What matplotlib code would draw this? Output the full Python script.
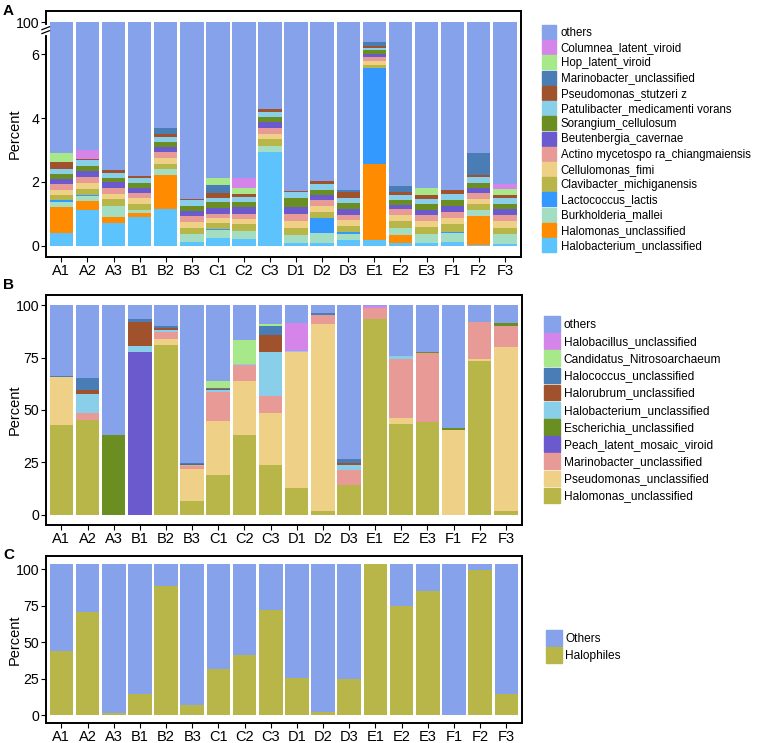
import numpy as np
import matplotlib
matplotlib.use("Agg")
from matplotlib import pyplot as plt
from matplotlib.patches import Patch
from matplotlib.ticker import NullLocator

plt.rcParams['font.family'] = ['Liberation Sans', 'DejaVu Sans']

samples = ["A1", "A2", "A3", "B1", "B2", "B3", "C1", "C2", "C3",
           "D1", "D2", "D3", "E1", "E2", "E3", "F1", "F2", "F3"]

# panel A, percent per taxon (bottom of the stack first)
halobacterium_a = [0.39, 1.12, 0.70, 0.89, 1.15, 0.13, 0.26, 0.20, 2.94, 0.09, 0.10, 0.18, 0.18, 0.09, 0.10, 0.13, 0.04, 0.07]
halomonas_a = [0.81, 0.28, 0.19, 0.13, 1.06, 0, 0, 0, 0, 0, 0, 0, 2.39, 0.24, 0, 0, 0.89, 0]
burkholderia_a = [0.16, 0.15, 0.36, 0.10, 0.19, 0.25, 0.23, 0.26, 0.19, 0.26, 0.31, 0.19, 0, 0.23, 0.28, 0.26, 0.20, 0.30]
lactococcus_a = [0.07, 0.03, 0, 0, 0, 0, 0.04, 0, 0, 0, 0.46, 0.06, 2.99, 0, 0, 0.05, 0, 0]
clavibacter_a = [0.15, 0.21, 0.20, 0.20, 0.17, 0.17, 0.17, 0.21, 0.20, 0.22, 0.19, 0.20, 0.09, 0.22, 0.21, 0.23, 0.18, 0.20]
cellulomonas_a = [0.18, 0.19, 0.17, 0.17, 0.18, 0.19, 0.16, 0.16, 0.18, 0.22, 0.18, 0.17, 0.12, 0.18, 0.19, 0.19, 0.17, 0.20]
actino_a = [0.16, 0.18, 0.19, 0.17, 0.18, 0.18, 0.15, 0.18, 0.18, 0.21, 0.18, 0.18, 0.14, 0.18, 0.17, 0.20, 0.17, 0.18]
beutenbergia_a = [0.16, 0.18, 0.18, 0.16, 0.16, 0.17, 0.18, 0.19, 0.19, 0.21, 0.16, 0.18, 0.10, 0.15, 0.18, 0.18, 0.16, 0.20]
sorangium_a = [0.16, 0.17, 0.14, 0.16, 0.16, 0.17, 0.17, 0.18, 0.15, 0.28, 0.18, 0.17, 0.11, 0.14, 0.17, 0.19, 0.16, 0.17]
patulibacter_a = [0.16, 0.17, 0.16, 0.15, 0.16, 0.17, 0.14, 0.14, 0.16, 0.18, 0.16, 0.18, 0.07, 0.15, 0.16, 0.19, 0.18, 0.19]
stutzeri_a = [0.23, 0.05, 0.08, 0.04, 0.10, 0.05, 0.14, 0.10, 0.08, 0.06, 0.12, 0.17, 0.08, 0.11, 0.13, 0.12, 0.08, 0.07]
marinobacter_a = [0, 0, 0, 0, 0.19, 0, 0.26, 0, 0, 0, 0, 0.08, 0.11, 0.18, 0, 0, 0.67, 0]
hop_a = [0.26, 0, 0, 0, 0, 0, 0.23, 0.20, 0, 0, 0, 0, 0, 0, 0.21, 0, 0, 0.21]
columnea_a = [0, 0.28, 0, 0, 0, 0, 0, 0.29, 0, 0, 0, 0, 0, 0, 0, 0, 0, 0.14]

# panel B
halomonas_b = [42.7, 45.4, 0, 0, 80.9, 6.4, 18.8, 38.2, 23.6, 12.6, 1.8, 14.0, 93.3, 43.2, 44.3, 0, 73.4, 1.8]
pseudomonas_b = [23.1, 0, 0, 0, 3.2, 15.3, 25.8, 25.5, 25.0, 65.1, 89.1, 0, 0, 2.8, 0, 40.3, 0.8, 78.3]
marinobacter_b = [0, 3.3, 0, 0, 3.2, 1.3, 14.0, 7.6, 8.1, 0, 4.6, 7.5, 5.4, 28.5, 32.9, 0, 17.8, 10.3]
peach_b = [0, 0, 0, 77.7, 0, 0, 0, 0, 0, 0, 0, 0, 0, 0, 0, 0, 0, 0]
escherichia_b = [0, 0, 37.9, 0, 0, 0, 0, 0, 0, 0, 0, 0, 0, 0, 0.7, 1.1, 0, 1.2]
halobacterium_b = [0, 8.8, 0, 2.7, 0.8, 0.5, 0.8, 0.5, 21.0, 0.5, 0, 2.4, 0, 1.1, 0, 0, 0, 0]
halorubrum_b = [0, 1.9, 0, 11.6, 1.2, 0.5, 0.6, 0, 8.0, 0, 0, 0.8, 0, 0, 0, 0, 0, 0]
halococcus_b = [0.4, 6.0, 0, 1.3, 1.1, 0.8, 0.7, 0, 4.3, 0, 0.8, 1.7, 0, 0, 0, 0, 0, 0]
candidatus_b = [0, 0, 0, 0, 0, 0, 3.0, 11.5, 0.9, 0, 0, 0, 0, 0, 0, 0, 0, 0]
halobacillus_b = [0, 0, 0, 0, 0, 0, 0, 0, 0, 13.4, 0, 0, 1.1, 0, 0, 0, 0, 0]

# panel C
halophiles_c = [44.0, 70.7, 1.8, 14.7, 88.5, 6.8, 31.6, 41.1, 72.2, 25.5, 2.0, 24.8, 104, 75.2, 85.1, 0, 99.8, 14.7]
c_total = 104

names_a = ["Halobacterium_unclassified", "Halomonas_unclassified", "Burkholderia_mallei",
           "Lactococcus_lactis", "Clavibacter_michiganensis", "Cellulomonas_fimi",
           "Actino mycetospo ra_chiangmaiensis", "Beutenbergia_cavernae", "Sorangium_cellulosum",
           "Patulibacter_medicamenti vorans", "Pseudomonas_stutzeri z", "Marinobacter_unclassified",
           "Hop_latent_viroid", "Columnea_latent_viroid"]
cols_a = ["#5CC3FC", "#FF8C00", "#A3DEC2", "#3399FF", "#B8B648", "#EED186", "#E89A96",
          "#6A5ACD", "#6B8E23", "#8ACFEA", "#A0522D", "#4A7DB5", "#A6E88A", "#D585E9"]
names_b = ["Halomonas_unclassified", "Pseudomonas_unclassified", "Marinobacter_unclassified",
           "Peach_latent_mosaic_viroid", "Escherichia_unclassified", "Halobacterium_unclassified",
           "Halorubrum_unclassified", "Halococcus_unclassified", "Candidatus_Nitrosoarchaeum",
           "Halobacillus_unclassified"]
cols_b = ["#B8B648", "#EED186", "#E89A96", "#6A5ACD", "#6B8E23", "#8ACFEA",
          "#A0522D", "#4A7DB5", "#A6E88A", "#D585E9"]
others_col = "#85A2EB"
halo_col = "#B8B648"

W, H = 758, 743
fig = plt.figure(figsize=(W / 100, H / 100), dpi=100)


def box(l, t, r, b):
    return [l / W, 1 - b / H, (r - l) / W, (b - t) / H]


def style(ax):
    for s in ax.spines.values():
        s.set_linewidth(1.4)
    ax.tick_params(axis='both', length=3.5, width=0.8, colors='black')
    ax.tick_params(axis='x', labelsize=10.5, pad=1.5)
    ax.tick_params(axis='y', labelsize=10.2, pad=1)
    ax.set_xlim(-0.6, len(samples) - 0.4)
    ax.set_xticks(range(len(samples)))
    ax.set_xticklabels(samples)
    ax.set_ylabel("Percent", fontsize=10.5)
    ax.yaxis.set_label_coords(-0.05, 0.5)


def stack(ax, series, cols, top):
    x = np.arange(len(samples))
    cum = np.zeros(len(samples))
    for vals, c in zip(series, cols):
        v = np.array(vals, dtype=float)
        ax.bar(x, v, bottom=cum, width=0.9, color=c, linewidth=0)
        cum = cum + v
    ax.bar(x, top - cum, bottom=cum, width=0.9, color=others_col, linewidth=0)


def legend(handles, x, y, fs, hl, hh, pad, sp):
    fig.legend(handles=handles, loc='upper left', bbox_to_anchor=(x / W, 1 - y / H),
               frameon=False, fontsize=fs, handlelength=hl, handleheight=hh,
               handletextpad=pad, labelspacing=sp, borderpad=0, borderaxespad=0)


def taxa_handles(names, cols):
    h = [Patch(color=others_col, label="others")]
    h += [Patch(color=c, label=n) for n, c in zip(names[::-1], cols[::-1])]
    return h


# ---- panel A (broken axis) ----
def fwd(y):
    y = np.asarray(y, dtype=float)
    return np.where(y <= 6.5, y, 6.5 + (y - 6.5) * 0.5 / 93.5)


def inv(z):
    z = np.asarray(z, dtype=float)
    return np.where(z <= 6.5, z, 6.5 + (z - 6.5) * 93.5 / 0.5)


axA = fig.add_axes(box(45.7, 11, 520.5, 257))
axA.set_yscale('function', functions=(fwd, inv))
series_a = [halobacterium_a, halomonas_a, burkholderia_a, lactococcus_a, clavibacter_a,
            cellulomonas_a, actino_a, beutenbergia_a, sorangium_a, patulibacter_a,
            stutzeri_a, marinobacter_a, hop_a, columnea_a]
stack(axA, series_a, cols_a, 100)
axA.set_ylim(-0.35, float(inv(7.35)))
axA.set_yticks([0, 2, 4, 6, 100])
axA.set_yticklabels(["0", "2", "4", "6", "100"])
axA.yaxis.set_minor_locator(NullLocator())
style(axA)
# axis break mark
yb = (6.75 + 0.35) / 7.7
axA.plot([0, 0], [yb - 0.012, yb + 0.012], color='white', lw=3, transform=axA.transAxes,
         clip_on=False, zorder=5)
for d in (-0.008, 0.008):
    axA.plot([-0.008, 0.008], [yb + d - 0.006, yb + d + 0.006], color='black', lw=0.9,
             transform=axA.transAxes, clip_on=False, zorder=6)

# ---- panel B ----
axB = fig.add_axes(box(45.7, 295, 521.5, 525))
series_b = [halomonas_b, pseudomonas_b, marinobacter_b, peach_b, escherichia_b,
            halobacterium_b, halorubrum_b, halococcus_b, candidatus_b, halobacillus_b]
stack(axB, series_b, cols_b, 100)
axB.set_ylim(-5, 105)
axB.set_yticks([0, 25, 50, 75, 100])
style(axB)

# ---- panel C ----
axC = fig.add_axes(box(45.7, 556, 522, 723))
x = np.arange(len(samples))
axC.bar(x, halophiles_c, width=0.9, color=halo_col, linewidth=0)
axC.bar(x, c_total - np.array(halophiles_c), bottom=halophiles_c, width=0.9,
        color=others_col, linewidth=0)
axC.set_ylim(-5.2, 109.2)
axC.set_yticks([0, 25, 50, 75, 100])
style(axC)

# legends
legend(taxa_handles(names_a, cols_a), 541.7, 25, 8.3, 1.2, 1.5, 0.45, 0.1)
legend(taxa_handles(names_b, cols_b), 544, 316, 8.6, 1.34, 1.65, 0.3, 0.12)
legend([Patch(color=others_col, label="Others"), Patch(color=halo_col, label="Halophiles")],
       546, 630, 8.6, 1.3, 1.65, 0.3, 0.12)

for lab, yy in (("A", 4), ("B", 278), ("C", 548)):
    fig.text(3 / W, 1 - yy / H, lab, fontsize=11, fontweight='bold', va='top', ha='left')

fig.savefig("out.png", dpi=100)
